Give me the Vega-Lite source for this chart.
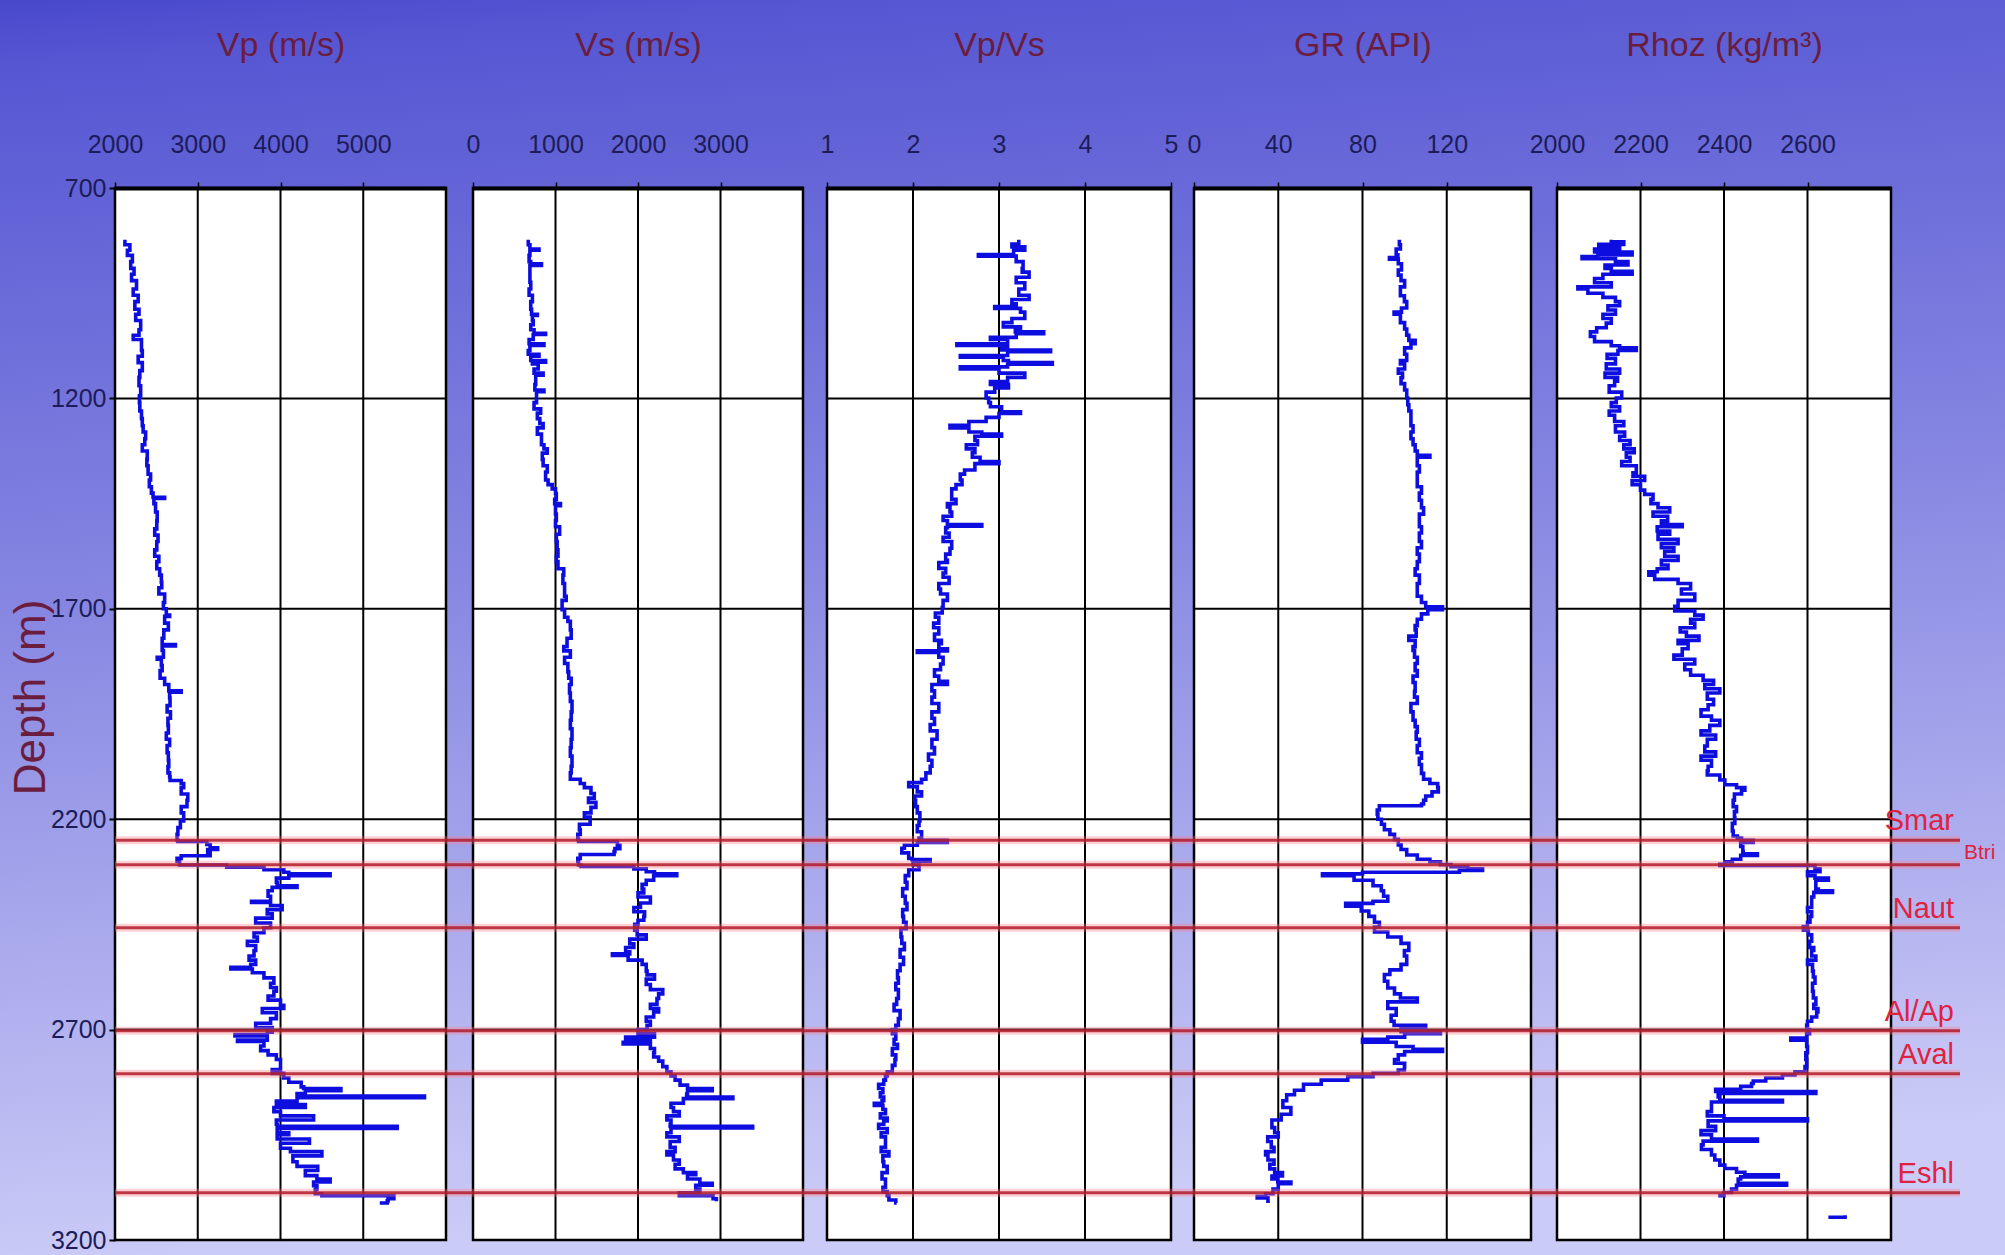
{
  "$schema": "https://vega.github.io/schema/vega-lite/v6.json",
  "width": 1845,
  "height": 1052,
  "autosize": "none",
  "padding": {"left": 115, "top": 188, "right": 45, "bottom": 15},
  "background": "#8686e2",
  "view": {"stroke": null, "fill": null},
  "config": {"font": "Liberation Sans, Arial, sans-serif"},
  "datasets": {
    "hgrid": [{"d": 1200}, {"d": 1700}, {"d": 2200}, {"d": 2700}],
    "tops": [
      {"name": "Smar", "d": 2250},
      {"name": "Btri", "d": 2308},
      {"name": "Naut", "d": 2458},
      {"name": "Al/Ap", "d": 2703},
      {"name": "Aval", "d": 2805},
      {"name": "Eshl", "d": 3088}
    ],
    "vp": [
      {"d":823,"v":2120},{"d":835,"v":2180},{"d":848,"v":2150},{"d":860,"v":2210},{"d":875,"v":2190},{"d":891,"v":2230},{"d":905,"v":2200},{"d":920,"v":2260},{"d":940,"v":2220},{"d":955,"v":2280},{"d":970,"v":2240},{"d":988,"v":2290},{"d":1000,"v":2250},{"d":1015,"v":2310},{"d":1037,"v":2290},{"d":1050,"v":2220},{"d":1060,"v":2320},{"d":1086,"v":2330},{"d":1100,"v":2280},{"d":1115,"v":2330},{"d":1134,"v":2300},{"d":1150,"v":2290},{"d":1170,"v":2310},{"d":1194,"v":2295},{"d":1210,"v":2300},{"d":1230,"v":2320},{"d":1248,"v":2330},{"d":1265,"v":2340},{"d":1280,"v":2370},{"d":1296,"v":2360},{"d":1310,"v":2330},{"d":1325,"v":2390},{"d":1345,"v":2385},{"d":1360,"v":2400},{"d":1380,"v":2430},{"d":1394,"v":2415},{"d":1410,"v":2440},{"d":1425,"v":2460},{"d":1435,"v":2600},{"d":1438,"v":2470},{"d":1450,"v":2490},{"d":1470,"v":2510},{"d":1491,"v":2505},{"d":1510,"v":2480},{"d":1525,"v":2520},{"d":1540,"v":2505},{"d":1560,"v":2480},{"d":1575,"v":2530},{"d":1588,"v":2505},{"d":1605,"v":2540},{"d":1620,"v":2560},{"d":1637,"v":2565},{"d":1650,"v":2530},{"d":1665,"v":2600},{"d":1685,"v":2585},{"d":1700,"v":2620},{"d":1715,"v":2660},{"d":1718,"v":2600},{"d":1734,"v":2645},{"d":1750,"v":2590},{"d":1770,"v":2570},{"d":1785,"v":2730},{"d":1788,"v":2570},{"d":1799,"v":2585},{"d":1815,"v":2510},{"d":1820,"v":2560},{"d":1835,"v":2570},{"d":1847,"v":2545},{"d":1865,"v":2600},{"d":1880,"v":2650},{"d":1895,"v":2800},{"d":1898,"v":2660},{"d":1912,"v":2665},{"d":1930,"v":2630},{"d":1945,"v":2670},{"d":1960,"v":2640},{"d":1977,"v":2645},{"d":1995,"v":2620},{"d":2010,"v":2660},{"d":2025,"v":2630},{"d":2042,"v":2645},{"d":2060,"v":2650},{"d":2075,"v":2640},{"d":2090,"v":2660},{"d":2099,"v":2665},{"d":2108,"v":2800},{"d":2115,"v":2830},{"d":2125,"v":2800},{"d":2140,"v":2880},{"d":2155,"v":2870},{"d":2170,"v":2800},{"d":2185,"v":2830},{"d":2204,"v":2790},{"d":2220,"v":2760},{"d":2236,"v":2750},{"d":2250,"v":2760},{"d":2253,"v":3110},{"d":2260,"v":3150},{"d":2268,"v":3240},{"d":2272,"v":3120},{"d":2280,"v":3150},{"d":2287,"v":2800},{"d":2293,"v":2750},{"d":2300,"v":2780},{"d":2309,"v":3350},{"d":2314,"v":3800},{"d":2320,"v":4040},{"d":2326,"v":4100},{"d":2330,"v":4600},{"d":2334,"v":4100},{"d":2340,"v":3950},{"d":2350,"v":3960},{"d":2358,"v":4200},{"d":2362,"v":3900},{"d":2370,"v":3850},{"d":2383,"v":3880},{"d":2395,"v":3650},{"d":2398,"v":3880},{"d":2405,"v":4020},{"d":2415,"v":3840},{"d":2425,"v":3900},{"d":2435,"v":3700},{"d":2447,"v":3880},{"d":2458,"v":3800},{"d":2470,"v":3680},{"d":2480,"v":3720},{"d":2490,"v":3600},{"d":2500,"v":3700},{"d":2512,"v":3680},{"d":2525,"v":3620},{"d":2535,"v":3700},{"d":2545,"v":3640},{"d":2552,"v":3400},{"d":2556,"v":3660},{"d":2565,"v":3800},{"d":2577,"v":3920},{"d":2590,"v":3880},{"d":2600,"v":3950},{"d":2609,"v":3920},{"d":2620,"v":3850},{"d":2630,"v":4000},{"d":2642,"v":4040},{"d":2650,"v":3780},{"d":2660,"v":3950},{"d":2674,"v":3880},{"d":2685,"v":3700},{"d":2695,"v":3900},{"d":2706,"v":3840},{"d":2712,"v":3450},{"d":2715,"v":3840},{"d":2725,"v":3480},{"d":2728,"v":3800},{"d":2739,"v":3760},{"d":2750,"v":3850},{"d":2760,"v":3950},{"d":2771,"v":4000},{"d":2785,"v":4000},{"d":2795,"v":3900},{"d":2804,"v":4040},{"d":2815,"v":4100},{"d":2825,"v":4250},{"d":2836,"v":4280},{"d":2840,"v":4730},{"d":2845,"v":4300},{"d":2852,"v":4200},{"d":2858,"v":5740},{"d":2862,"v":4200},{"d":2870,"v":3950},{"d":2878,"v":4300},{"d":2885,"v":3920},{"d":2895,"v":4000},{"d":2905,"v":4400},{"d":2915,"v":3950},{"d":2925,"v":3960},{"d":2930,"v":5410},{"d":2935,"v":3960},{"d":2945,"v":4100},{"d":2950,"v":3960},{"d":2960,"v":4350},{"d":2970,"v":4000},{"d":2982,"v":4120},{"d":2990,"v":4500},{"d":3000,"v":4150},{"d":3014,"v":4200},{"d":3025,"v":4450},{"d":3035,"v":4300},{"d":3047,"v":4440},{"d":3055,"v":4600},{"d":3062,"v":4400},{"d":3071,"v":4440},{"d":3080,"v":4420},{"d":3090,"v":4500},{"d":3095,"v":5370},{"d":3102,"v":5300},{"d":3107,"v":5290},{"d":3112,"v":5200}
    ],
    "vs": [
      {"d":823,"v":670},{"d":835,"v":690},{"d":845,"v":800},{"d":848,"v":690},{"d":860,"v":680},{"d":875,"v":700},{"d":880,"v":830},{"d":884,"v":690},{"d":900,"v":690},{"d":924,"v":700},{"d":940,"v":680},{"d":955,"v":720},{"d":970,"v":700},{"d":988,"v":710},{"d":1000,"v":780},{"d":1003,"v":720},{"d":1015,"v":730},{"d":1025,"v":700},{"d":1037,"v":740},{"d":1045,"v":880},{"d":1048,"v":730},{"d":1060,"v":680},{"d":1070,"v":860},{"d":1074,"v":690},{"d":1086,"v":670},{"d":1095,"v":800},{"d":1100,"v":700},{"d":1110,"v":880},{"d":1114,"v":720},{"d":1118,"v":790},{"d":1130,"v":740},{"d":1140,"v":850},{"d":1145,"v":760},{"d":1160,"v":760},{"d":1167,"v":750},{"d":1180,"v":860},{"d":1184,"v":770},{"d":1199,"v":770},{"d":1210,"v":740},{"d":1225,"v":820},{"d":1235,"v":780},{"d":1248,"v":810},{"d":1260,"v":850},{"d":1270,"v":780},{"d":1285,"v":830},{"d":1296,"v":830},{"d":1310,"v":860},{"d":1320,"v":900},{"d":1330,"v":840},{"d":1345,"v":850},{"d":1360,"v":900},{"d":1375,"v":880},{"d":1394,"v":910},{"d":1405,"v":960},{"d":1415,"v":1000},{"d":1426,"v":1010},{"d":1440,"v":990},{"d":1450,"v":1060},{"d":1455,"v":1000},{"d":1475,"v":1010},{"d":1490,"v":1000},{"d":1505,"v":1050},{"d":1523,"v":1010},{"d":1540,"v":1020},{"d":1560,"v":1030},{"d":1575,"v":1010},{"d":1588,"v":1030},{"d":1605,"v":1100},{"d":1620,"v":1090},{"d":1640,"v":1110},{"d":1653,"v":1110},{"d":1670,"v":1130},{"d":1680,"v":1080},{"d":1702,"v":1110},{"d":1720,"v":1150},{"d":1730,"v":1180},{"d":1750,"v":1190},{"d":1770,"v":1140},{"d":1790,"v":1100},{"d":1800,"v":1180},{"d":1815,"v":1110},{"d":1830,"v":1150},{"d":1850,"v":1160},{"d":1865,"v":1190},{"d":1880,"v":1170},{"d":1900,"v":1180},{"d":1920,"v":1200},{"d":1945,"v":1190},{"d":1965,"v":1180},{"d":1985,"v":1200},{"d":2010,"v":1190},{"d":2030,"v":1180},{"d":2050,"v":1200},{"d":2074,"v":1190},{"d":2090,"v":1180},{"d":2105,"v":1300},{"d":2115,"v":1350},{"d":2125,"v":1430},{"d":2139,"v":1470},{"d":2150,"v":1400},{"d":2160,"v":1490},{"d":2172,"v":1430},{"d":2185,"v":1350},{"d":2195,"v":1420},{"d":2212,"v":1290},{"d":2225,"v":1300},{"d":2236,"v":1270},{"d":2248,"v":1280},{"d":2253,"v":1750},{"d":2262,"v":1780},{"d":2270,"v":1720},{"d":2277,"v":1710},{"d":2284,"v":1300},{"d":2293,"v":1270},{"d":2300,"v":1280},{"d":2309,"v":1310},{"d":2312,"v":1950},{"d":2318,"v":2100},{"d":2325,"v":2200},{"d":2330,"v":2470},{"d":2334,"v":2190},{"d":2345,"v":2100},{"d":2355,"v":2050},{"d":2366,"v":2070},{"d":2375,"v":2000},{"d":2385,"v":2150},{"d":2399,"v":2030},{"d":2410,"v":1950},{"d":2420,"v":2080},{"d":2431,"v":2070},{"d":2440,"v":2000},{"d":2450,"v":1960},{"d":2464,"v":1990},{"d":2475,"v":2100},{"d":2485,"v":1900},{"d":2496,"v":1950},{"d":2505,"v":1850},{"d":2515,"v":1900},{"d":2520,"v":1690},{"d":2524,"v":1880},{"d":2535,"v":2050},{"d":2545,"v":2100},{"d":2561,"v":2110},{"d":2570,"v":2200},{"d":2580,"v":2100},{"d":2593,"v":2150},{"d":2605,"v":2300},{"d":2615,"v":2250},{"d":2626,"v":2230},{"d":2640,"v":2150},{"d":2650,"v":2250},{"d":2658,"v":2190},{"d":2670,"v":2100},{"d":2680,"v":2150},{"d":2690,"v":2110},{"d":2700,"v":2000},{"d":2710,"v":2200},{"d":2718,"v":1850},{"d":2722,"v":2150},{"d":2730,"v":1820},{"d":2734,"v":2150},{"d":2745,"v":2200},{"d":2755,"v":2190},{"d":2765,"v":2250},{"d":2775,"v":2300},{"d":2788,"v":2350},{"d":2800,"v":2400},{"d":2810,"v":2450},{"d":2820,"v":2510},{"d":2832,"v":2600},{"d":2840,"v":2900},{"d":2845,"v":2600},{"d":2853,"v":2590},{"d":2860,"v":3150},{"d":2864,"v":2550},{"d":2875,"v":2400},{"d":2885,"v":2430},{"d":2895,"v":2500},{"d":2905,"v":2350},{"d":2915,"v":2400},{"d":2925,"v":2390},{"d":2930,"v":3390},{"d":2934,"v":2400},{"d":2945,"v":2350},{"d":2955,"v":2500},{"d":2966,"v":2390},{"d":2980,"v":2450},{"d":2990,"v":2350},{"d":2998,"v":2430},{"d":3010,"v":2500},{"d":3020,"v":2450},{"d":3031,"v":2550},{"d":3040,"v":2700},{"d":3045,"v":2600},{"d":3055,"v":2750},{"d":3065,"v":2900},{"d":3070,"v":2700},{"d":3079,"v":2750},{"d":3088,"v":2500},{"d":3095,"v":2910},{"d":3102,"v":2950},{"d":3108,"v":2950}
    ],
    "vpvs": [
      {"d":823,"v":3.23},{"d":833,"v":3.15},{"d":840,"v":3.3},{"d":848,"v":3.17},{"d":858,"v":2.76},{"d":862,"v":3.2},{"d":875,"v":3.28},{"d":891,"v":3.27},{"d":900,"v":3.35},{"d":912,"v":3.2},{"d":925,"v":3.3},{"d":940,"v":3.23},{"d":955,"v":3.35},{"d":965,"v":3.15},{"d":975,"v":3.2},{"d":982,"v":2.95},{"d":986,"v":3.25},{"d":995,"v":3.3},{"d":1010,"v":3.15},{"d":1020,"v":3.05},{"d":1030,"v":3.25},{"d":1037,"v":3.19},{"d":1042,"v":3.52},{"d":1046,"v":3.2},{"d":1055,"v":2.9},{"d":1060,"v":3.1},{"d":1070,"v":2.51},{"d":1074,"v":3.1},{"d":1078,"v":3.03},{"d":1085,"v":3.6},{"d":1089,"v":3.1},{"d":1098,"v":2.55},{"d":1102,"v":3.05},{"d":1110,"v":3.11},{"d":1115,"v":3.62},{"d":1119,"v":3.1},{"d":1125,"v":2.55},{"d":1130,"v":3.0},{"d":1140,"v":3.3},{"d":1150,"v":3.1},{"d":1160,"v":2.9},{"d":1167,"v":3.11},{"d":1175,"v":2.95},{"d":1185,"v":2.85},{"d":1199,"v":2.88},{"d":1210,"v":2.9},{"d":1220,"v":3.03},{"d":1232,"v":3.25},{"d":1236,"v":3.0},{"d":1245,"v":2.85},{"d":1255,"v":2.65},{"d":1264,"v":2.43},{"d":1270,"v":2.65},{"d":1280,"v":2.8},{"d":1285,"v":3.03},{"d":1290,"v":2.72},{"d":1300,"v":2.75},{"d":1310,"v":2.62},{"d":1320,"v":2.72},{"d":1329,"v":2.69},{"d":1340,"v":2.78},{"d":1350,"v":3.0},{"d":1355,"v":2.72},{"d":1370,"v":2.6},{"d":1380,"v":2.55},{"d":1394,"v":2.57},{"d":1405,"v":2.5},{"d":1415,"v":2.45},{"d":1426,"v":2.45},{"d":1440,"v":2.5},{"d":1450,"v":2.4},{"d":1458,"v":2.43},{"d":1470,"v":2.45},{"d":1480,"v":2.35},{"d":1490,"v":2.4},{"d":1500,"v":2.8},{"d":1504,"v":2.4},{"d":1507,"v":2.38},{"d":1520,"v":2.42},{"d":1530,"v":2.35},{"d":1540,"v":2.45},{"d":1556,"v":2.43},{"d":1570,"v":2.38},{"d":1585,"v":2.4},{"d":1590,"v":2.3},{"d":1604,"v":2.38},{"d":1615,"v":2.35},{"d":1625,"v":2.42},{"d":1640,"v":2.3},{"d":1653,"v":2.32},{"d":1665,"v":2.4},{"d":1680,"v":2.35},{"d":1697,"v":2.34},{"d":1710,"v":2.26},{"d":1720,"v":2.3},{"d":1734,"v":2.24},{"d":1745,"v":2.3},{"d":1760,"v":2.25},{"d":1775,"v":2.33},{"d":1783,"v":2.3},{"d":1795,"v":2.4},{"d":1800,"v":2.05},{"d":1804,"v":2.3},{"d":1815,"v":2.35},{"d":1831,"v":2.32},{"d":1845,"v":2.25},{"d":1860,"v":2.3},{"d":1872,"v":2.4},{"d":1880,"v":2.22},{"d":1895,"v":2.25},{"d":1910,"v":2.22},{"d":1925,"v":2.3},{"d":1945,"v":2.22},{"d":1960,"v":2.25},{"d":1975,"v":2.2},{"d":1990,"v":2.28},{"d":2010,"v":2.22},{"d":2030,"v":2.25},{"d":2045,"v":2.18},{"d":2060,"v":2.22},{"d":2074,"v":2.2},{"d":2090,"v":2.15},{"d":2105,"v":2.1},{"d":2113,"v":1.95},{"d":2123,"v":2.05},{"d":2135,"v":2.1},{"d":2145,"v":2.02},{"d":2155,"v":2.03},{"d":2170,"v":2.05},{"d":2185,"v":2.08},{"d":2204,"v":2.07},{"d":2215,"v":2.05},{"d":2230,"v":2.1},{"d":2245,"v":2.07},{"d":2250,"v":2.4},{"d":2255,"v":2.05},{"d":2262,"v":1.9},{"d":2269,"v":1.87},{"d":2280,"v":1.95},{"d":2293,"v":1.99},{"d":2296,"v":2.2},{"d":2300,"v":2.0},{"d":2309,"v":2.07},{"d":2320,"v":1.95},{"d":2334,"v":1.91},{"d":2350,"v":1.93},{"d":2365,"v":1.88},{"d":2383,"v":1.91},{"d":2400,"v":1.93},{"d":2415,"v":1.88},{"d":2431,"v":1.89},{"d":2445,"v":1.92},{"d":2460,"v":1.86},{"d":2480,"v":1.87},{"d":2495,"v":1.9},{"d":2510,"v":1.85},{"d":2528,"v":1.89},{"d":2545,"v":1.85},{"d":2560,"v":1.82},{"d":2577,"v":1.83},{"d":2590,"v":1.8},{"d":2605,"v":1.83},{"d":2626,"v":1.81},{"d":2640,"v":1.78},{"d":2655,"v":1.85},{"d":2674,"v":1.83},{"d":2690,"v":1.8},{"d":2700,"v":1.76},{"d":2710,"v":1.8},{"d":2723,"v":1.78},{"d":2735,"v":1.82},{"d":2745,"v":1.76},{"d":2760,"v":1.8},{"d":2771,"v":1.79},{"d":2785,"v":1.76},{"d":2800,"v":1.7},{"d":2810,"v":1.68},{"d":2820,"v":1.66},{"d":2830,"v":1.6},{"d":2840,"v":1.65},{"d":2850,"v":1.62},{"d":2860,"v":1.66},{"d":2869,"v":1.64},{"d":2875,"v":1.55},{"d":2880,"v":1.65},{"d":2890,"v":1.68},{"d":2900,"v":1.62},{"d":2910,"v":1.7},{"d":2917,"v":1.66},{"d":2925,"v":1.6},{"d":2935,"v":1.7},{"d":2945,"v":1.63},{"d":2955,"v":1.68},{"d":2966,"v":1.68},{"d":2980,"v":1.63},{"d":2990,"v":1.72},{"d":3000,"v":1.65},{"d":3014,"v":1.66},{"d":3025,"v":1.7},{"d":3040,"v":1.64},{"d":3055,"v":1.68},{"d":3063,"v":1.68},{"d":3075,"v":1.65},{"d":3085,"v":1.7},{"d":3095,"v":1.72},{"d":3105,"v":1.8},{"d":3112,"v":1.81}
    ],
    "gr": [
      {"d":823,"v":97.5},{"d":835,"v":98},{"d":845,"v":96},{"d":859,"v":96.8},{"d":865,"v":92.8},{"d":869,"v":97},{"d":880,"v":98.5},{"d":895,"v":97},{"d":907,"v":98.3},{"d":920,"v":100},{"d":935,"v":98},{"d":956,"v":99.9},{"d":970,"v":101},{"d":985,"v":98.5},{"d":995,"v":95},{"d":1000,"v":98},{"d":1020,"v":100},{"d":1035,"v":101},{"d":1050,"v":102},{"d":1062,"v":105},{"d":1070,"v":103},{"d":1080,"v":100},{"d":1095,"v":101},{"d":1110,"v":98},{"d":1118,"v":100},{"d":1130,"v":97},{"d":1140,"v":99},{"d":1151,"v":98.3},{"d":1165,"v":100},{"d":1180,"v":101},{"d":1199,"v":101.5},{"d":1215,"v":102},{"d":1230,"v":103},{"d":1248,"v":103},{"d":1265,"v":104},{"d":1280,"v":103},{"d":1296,"v":104},{"d":1310,"v":105},{"d":1325,"v":106},{"d":1335,"v":112},{"d":1340,"v":106},{"d":1360,"v":107},{"d":1375,"v":106},{"d":1394,"v":106},{"d":1410,"v":108},{"d":1425,"v":107},{"d":1442,"v":108},{"d":1460,"v":109},{"d":1475,"v":107},{"d":1491,"v":107},{"d":1505,"v":108},{"d":1520,"v":107},{"d":1540,"v":108},{"d":1555,"v":106},{"d":1570,"v":107},{"d":1588,"v":106},{"d":1605,"v":105},{"d":1620,"v":107},{"d":1640,"v":106},{"d":1653,"v":106},{"d":1670,"v":108},{"d":1685,"v":110},{"d":1695,"v":118},{"d":1702,"v":111},{"d":1712,"v":108},{"d":1725,"v":106},{"d":1740,"v":105},{"d":1750,"v":105.5},{"d":1765,"v":102},{"d":1775,"v":105},{"d":1790,"v":104},{"d":1799,"v":104.7},{"d":1815,"v":106},{"d":1830,"v":105},{"d":1847,"v":106},{"d":1860,"v":104},{"d":1875,"v":105},{"d":1896,"v":104.7},{"d":1910,"v":106},{"d":1925,"v":103},{"d":1945,"v":104},{"d":1965,"v":105},{"d":1980,"v":106},{"d":1993,"v":105.5},{"d":2010,"v":107},{"d":2025,"v":106},{"d":2042,"v":108},{"d":2055,"v":107},{"d":2070,"v":108},{"d":2091,"v":109},{"d":2105,"v":112},{"d":2115,"v":115.7},{"d":2125,"v":116},{"d":2135,"v":113},{"d":2145,"v":110},{"d":2155,"v":109},{"d":2164,"v":108},{"d":2168,"v":88},{"d":2178,"v":87},{"d":2188,"v":87.3},{"d":2200,"v":89},{"d":2212,"v":90.4},{"d":2225,"v":93},{"d":2236,"v":95.2},{"d":2248,"v":97},{"d":2261,"v":98.3},{"d":2272,"v":101},{"d":2285,"v":106},{"d":2295,"v":112},{"d":2301,"v":117},{"d":2308,"v":122},{"d":2313,"v":130},{"d":2318,"v":137},{"d":2322,"v":126},{"d":2326,"v":80},{"d":2330,"v":61},{"d":2334,"v":76},{"d":2345,"v":85},{"d":2358,"v":88.9},{"d":2370,"v":90},{"d":2383,"v":92},{"d":2395,"v":85},{"d":2400,"v":72},{"d":2407,"v":79.4},{"d":2418,"v":83},{"d":2431,"v":85.7},{"d":2445,"v":88},{"d":2456,"v":85.7},{"d":2468,"v":92},{"d":2480,"v":98.3},{"d":2495,"v":102},{"d":2512,"v":99.9},{"d":2525,"v":101},{"d":2545,"v":98.3},{"d":2558,"v":93},{"d":2569,"v":90.4},{"d":2585,"v":92},{"d":2601,"v":95.2},{"d":2615,"v":98},{"d":2625,"v":106},{"d":2634,"v":92},{"d":2650,"v":96},{"d":2666,"v":93.6},{"d":2680,"v":95},{"d":2690,"v":110},{"d":2698,"v":98.3},{"d":2705,"v":117},{"d":2710,"v":100},{"d":2718,"v":92},{"d":2723,"v":80},{"d":2730,"v":96},{"d":2740,"v":104},{"d":2747,"v":118},{"d":2752,"v":100},{"d":2760,"v":97},{"d":2771,"v":95.2},{"d":2780,"v":100},{"d":2788,"v":99.9},{"d":2796,"v":97},{"d":2804,"v":85},{"d":2812,"v":73},{"d":2820,"v":60.4},{"d":2830,"v":52},{"d":2844,"v":47.7},{"d":2855,"v":44},{"d":2869,"v":42.2},{"d":2885,"v":46},{"d":2901,"v":41.4},{"d":2915,"v":37},{"d":2933,"v":38.3},{"d":2945,"v":40},{"d":2955,"v":35},{"d":2966,"v":36.7},{"d":2980,"v":38},{"d":2990,"v":34},{"d":2998,"v":35.1},{"d":3010,"v":38},{"d":3020,"v":36},{"d":3031,"v":38.3},{"d":3040,"v":42},{"d":3048,"v":37},{"d":3055,"v":39.8},{"d":3062,"v":46},{"d":3066,"v":40},{"d":3079,"v":37.5},{"d":3090,"v":34},{"d":3096,"v":30},{"d":3100,"v":35.1},{"d":3108,"v":36}
    ],
    "rhoz": [
      {"d":823,"v":2130,"seg":1},{"d":828,"v":2160,"seg":1},{"d":834,"v":2100,"seg":1},{"d":840,"v":2150,"seg":1},{"d":845,"v":2090,"seg":1},{"d":852,"v":2180,"seg":1},{"d":859,"v":2098,"seg":1},{"d":863,"v":2060,"seg":1},{"d":868,"v":2140,"seg":1},{"d":875,"v":2170,"seg":1},{"d":883,"v":2115,"seg":1},{"d":891,"v":2130,"seg":1},{"d":898,"v":2180,"seg":1},{"d":905,"v":2110,"seg":1},{"d":915,"v":2090,"seg":1},{"d":925,"v":2130,"seg":1},{"d":935,"v":2050,"seg":1},{"d":940,"v":2074,"seg":1},{"d":950,"v":2110,"seg":1},{"d":960,"v":2140,"seg":1},{"d":970,"v":2150,"seg":1},{"d":980,"v":2122,"seg":1},{"d":990,"v":2140,"seg":1},{"d":1000,"v":2110,"seg":1},{"d":1010,"v":2130,"seg":1},{"d":1021,"v":2118,"seg":1},{"d":1032,"v":2095,"seg":1},{"d":1042,"v":2080,"seg":1},{"d":1053,"v":2090,"seg":1},{"d":1065,"v":2130,"seg":1},{"d":1075,"v":2150,"seg":1},{"d":1080,"v":2190,"seg":1},{"d":1086,"v":2146,"seg":1},{"d":1095,"v":2120,"seg":1},{"d":1105,"v":2140,"seg":1},{"d":1118,"v":2118,"seg":1},{"d":1130,"v":2150,"seg":1},{"d":1140,"v":2115,"seg":1},{"d":1150,"v":2145,"seg":1},{"d":1159,"v":2138,"seg":1},{"d":1170,"v":2125,"seg":1},{"d":1185,"v":2155,"seg":1},{"d":1199,"v":2142,"seg":1},{"d":1210,"v":2130,"seg":1},{"d":1220,"v":2150,"seg":1},{"d":1230,"v":2125,"seg":1},{"d":1240,"v":2138,"seg":1},{"d":1255,"v":2160,"seg":1},{"d":1265,"v":2140,"seg":1},{"d":1280,"v":2162,"seg":1},{"d":1290,"v":2150,"seg":1},{"d":1300,"v":2175,"seg":1},{"d":1310,"v":2160,"seg":1},{"d":1320,"v":2185,"seg":1},{"d":1329,"v":2166,"seg":1},{"d":1340,"v":2175,"seg":1},{"d":1350,"v":2155,"seg":1},{"d":1360,"v":2190,"seg":1},{"d":1377,"v":2182,"seg":1},{"d":1385,"v":2210,"seg":1},{"d":1395,"v":2180,"seg":1},{"d":1405,"v":2200,"seg":1},{"d":1418,"v":2210,"seg":1},{"d":1428,"v":2230,"seg":1},{"d":1440,"v":2225,"seg":1},{"d":1450,"v":2242,"seg":1},{"d":1460,"v":2270,"seg":1},{"d":1470,"v":2230,"seg":1},{"d":1480,"v":2265,"seg":1},{"d":1491,"v":2250,"seg":1},{"d":1500,"v":2300,"seg":1},{"d":1505,"v":2240,"seg":1},{"d":1515,"v":2270,"seg":1},{"d":1523,"v":2242,"seg":1},{"d":1535,"v":2290,"seg":1},{"d":1545,"v":2250,"seg":1},{"d":1555,"v":2280,"seg":1},{"d":1564,"v":2258,"seg":1},{"d":1575,"v":2290,"seg":1},{"d":1585,"v":2250,"seg":1},{"d":1596,"v":2266,"seg":1},{"d":1605,"v":2240,"seg":1},{"d":1612,"v":2220,"seg":1},{"d":1620,"v":2234,"seg":1},{"d":1630,"v":2290,"seg":1},{"d":1640,"v":2320,"seg":1},{"d":1653,"v":2298,"seg":1},{"d":1665,"v":2330,"seg":1},{"d":1680,"v":2290,"seg":1},{"d":1694,"v":2282,"seg":1},{"d":1705,"v":2330,"seg":1},{"d":1715,"v":2350,"seg":1},{"d":1725,"v":2320,"seg":1},{"d":1734,"v":2330,"seg":1},{"d":1745,"v":2295,"seg":1},{"d":1755,"v":2310,"seg":1},{"d":1765,"v":2340,"seg":1},{"d":1775,"v":2290,"seg":1},{"d":1783,"v":2314,"seg":1},{"d":1795,"v":2300,"seg":1},{"d":1810,"v":2280,"seg":1},{"d":1820,"v":2330,"seg":1},{"d":1831,"v":2306,"seg":1},{"d":1845,"v":2320,"seg":1},{"d":1858,"v":2350,"seg":1},{"d":1870,"v":2375,"seg":1},{"d":1880,"v":2354,"seg":1},{"d":1890,"v":2390,"seg":1},{"d":1900,"v":2360,"seg":1},{"d":1915,"v":2375,"seg":1},{"d":1928,"v":2362,"seg":1},{"d":1940,"v":2345,"seg":1},{"d":1955,"v":2370,"seg":1},{"d":1965,"v":2390,"seg":1},{"d":1977,"v":2366,"seg":1},{"d":1990,"v":2345,"seg":1},{"d":2000,"v":2380,"seg":1},{"d":2010,"v":2360,"seg":1},{"d":2026,"v":2354,"seg":1},{"d":2040,"v":2380,"seg":1},{"d":2050,"v":2345,"seg":1},{"d":2060,"v":2370,"seg":1},{"d":2074,"v":2362,"seg":1},{"d":2085,"v":2360,"seg":1},{"d":2095,"v":2390,"seg":1},{"d":2107,"v":2402,"seg":1},{"d":2118,"v":2430,"seg":1},{"d":2125,"v":2450,"seg":1},{"d":2131,"v":2442,"seg":1},{"d":2140,"v":2425,"seg":1},{"d":2155,"v":2422,"seg":1},{"d":2170,"v":2430,"seg":1},{"d":2182,"v":2425,"seg":1},{"d":2196,"v":2426,"seg":1},{"d":2210,"v":2420,"seg":1},{"d":2228,"v":2422,"seg":1},{"d":2240,"v":2432,"seg":1},{"d":2245,"v":2442,"seg":1},{"d":2250,"v":2470,"seg":1},{"d":2255,"v":2440,"seg":1},{"d":2265,"v":2445,"seg":1},{"d":2277,"v":2446,"seg":1},{"d":2282,"v":2480,"seg":1},{"d":2286,"v":2440,"seg":1},{"d":2295,"v":2420,"seg":1},{"d":2301,"v":2402,"seg":1},{"d":2307,"v":2390,"seg":1},{"d":2310,"v":2618,"seg":1},{"d":2318,"v":2630,"seg":1},{"d":2325,"v":2600,"seg":1},{"d":2334,"v":2618,"seg":1},{"d":2340,"v":2650,"seg":1},{"d":2345,"v":2620,"seg":1},{"d":2355,"v":2620,"seg":1},{"d":2366,"v":2626,"seg":1},{"d":2370,"v":2660,"seg":1},{"d":2374,"v":2615,"seg":1},{"d":2385,"v":2610,"seg":1},{"d":2399,"v":2610,"seg":1},{"d":2410,"v":2600,"seg":1},{"d":2420,"v":2610,"seg":1},{"d":2431,"v":2606,"seg":1},{"d":2445,"v":2600,"seg":1},{"d":2455,"v":2590,"seg":1},{"d":2464,"v":2602,"seg":1},{"d":2475,"v":2610,"seg":1},{"d":2490,"v":2605,"seg":1},{"d":2505,"v":2615,"seg":1},{"d":2512,"v":2610,"seg":1},{"d":2525,"v":2620,"seg":1},{"d":2535,"v":2600,"seg":1},{"d":2545,"v":2612,"seg":1},{"d":2561,"v":2614,"seg":1},{"d":2575,"v":2618,"seg":1},{"d":2590,"v":2612,"seg":1},{"d":2609,"v":2614,"seg":1},{"d":2625,"v":2620,"seg":1},{"d":2640,"v":2615,"seg":1},{"d":2650,"v":2625,"seg":1},{"d":2658,"v":2622,"seg":1},{"d":2670,"v":2610,"seg":1},{"d":2680,"v":2600,"seg":1},{"d":2690,"v":2598,"seg":1},{"d":2700,"v":2605,"seg":1},{"d":2710,"v":2598,"seg":1},{"d":2720,"v":2560,"seg":1},{"d":2725,"v":2598,"seg":1},{"d":2740,"v":2600,"seg":1},{"d":2755,"v":2596,"seg":1},{"d":2771,"v":2598,"seg":1},{"d":2788,"v":2594,"seg":1},{"d":2800,"v":2570,"seg":1},{"d":2808,"v":2540,"seg":1},{"d":2815,"v":2500,"seg":1},{"d":2822,"v":2470,"seg":1},{"d":2828,"v":2466,"seg":1},{"d":2835,"v":2440,"seg":1},{"d":2842,"v":2380,"seg":1},{"d":2847,"v":2620,"seg":1},{"d":2852,"v":2386,"seg":1},{"d":2860,"v":2390,"seg":1},{"d":2868,"v":2540,"seg":1},{"d":2872,"v":2370,"seg":1},{"d":2885,"v":2370,"seg":1},{"d":2895,"v":2360,"seg":1},{"d":2905,"v":2400,"seg":1},{"d":2912,"v":2600,"seg":1},{"d":2917,"v":2362,"seg":1},{"d":2930,"v":2380,"seg":1},{"d":2940,"v":2345,"seg":1},{"d":2950,"v":2370,"seg":1},{"d":2960,"v":2480,"seg":1},{"d":2965,"v":2350,"seg":1},{"d":2974,"v":2346,"seg":1},{"d":2985,"v":2370,"seg":1},{"d":2998,"v":2378,"seg":1},{"d":3010,"v":2390,"seg":1},{"d":3022,"v":2402,"seg":1},{"d":3030,"v":2430,"seg":1},{"d":3039,"v":2450,"seg":1},{"d":3045,"v":2530,"seg":1},{"d":3050,"v":2440,"seg":1},{"d":3055,"v":2434,"seg":1},{"d":3065,"v":2550,"seg":1},{"d":3070,"v":2430,"seg":1},{"d":3079,"v":2418,"seg":1},{"d":3087,"v":2400,"seg":1},{"d":3095,"v":2386,"seg":1},
      {"d":3141,"v":2690,"seg":2},{"d":3146,"v":2650,"seg":2}
    ]
  },
  "resolve": {"scale": {"x": "independent"}, "axis": {"x": "independent"}},
  "layer": [
    {
      "data": {"values": [{}]},
      "mark": {"type": "rect", "fill": {"gradient": "linear", "x1": 0, "y1": 0, "x2": 0.12, "y2": 1,
        "stops": [{"offset": 0, "color": "#4848cc"}, {"offset": 0.05, "color": "#5656d3"}, {"offset": 0.45, "color": "#8383e1"}, {"offset": 1, "color": "#cbcbf7"}]}},
      "encoding": {
        "x": {"datum": -0.0624, "type": "quantitative", "scale": {"domain": [0, 1], "range": [0, 1845], "nice": false, "zero": false}, "axis": null},
        "x2": {"datum": 1.0245},
        "y": {"datum": 253, "type": "quantitative", "scale": {"domain": [700, 3200], "range": [0, 1052], "nice": false, "zero": false}},
        "y2": {"datum": 3236}
      }
    },
    {
      "layer": [
        {"data": {"values": [{}]}, "mark": {"type": "rect", "fill": "white"},
         "encoding": {
           "x": {"datum": 2000, "type": "quantitative", "scale": {"domain": [2000, 6000], "range": [0, 331], "nice": false, "zero": false},
                 "axis": {"orient": "top", "values": [2000, 3000, 4000, 5000], "format": "d", "title": "Vp (m/s)", "grid": false, "domainColor": "black", "domainWidth": 4, "tickSize": 6, "tickColor": "black", "tickWidth": 1.5, "labelFont": "Liberation Sans", "labelFontSize": 25, "labelColor": "#1c1c58", "labelPadding": 25, "labelOverlap": false, "labelFlush": false, "labelBound": false, "titleFont": "Liberation Sans", "titleFontSize": 34, "titleFontWeight": "normal", "titleColor": "#6b1d3f", "titlePadding": 70, "zindex": 2}},
           "x2": {"datum": 6000},
           "y": {"datum": 700, "type": "quantitative", "scale": {"domain": [700, 3200], "range": [0, 1052], "nice": false, "zero": false},
                 "axis": {"orient": "left", "values": [700, 1200, 1700, 2200, 2700, 3200], "format": "d", "title": "Depth (m)", "grid": false, "domain": false, "tickSize": 6, "tickColor": "black", "tickWidth": 2, "labelFont": "Liberation Sans", "labelFontSize": 25, "labelColor": "#1c1c58", "labelPadding": 3, "labelBound": false, "titleFont": "Liberation Sans", "titleFontSize": 44, "titleFontWeight": "normal", "titleColor": "#6b1d3f", "titlePadding": -3, "titleY": 509, "zindex": 2}},
           "y2": {"datum": 3200}}},
        {"data": {"name": "hgrid"}, "mark": {"type": "rule", "color": "black", "strokeWidth": 2},
         "encoding": {"y": {"field": "d", "type": "quantitative"},
                      "x": {"datum": 2000, "type": "quantitative"}, "x2": {"datum": 6000}}},
        {"data": {"values": [{"g": 3000}, {"g": 4000}, {"g": 5000}]}, "mark": {"type": "rule", "color": "black", "strokeWidth": 2},
         "encoding": {"x": {"field": "g", "type": "quantitative"},
                      "y": {"datum": 700, "type": "quantitative"}, "y2": {"datum": 3200}}},
        {"data": {"name": "vp"}, "mark": {"type": "line", "interpolate": "step-before", "color": "#0d0de0", "strokeWidth": 3.6},
         "encoding": {"x": {"field": "v", "type": "quantitative"},
                      "y": {"field": "d", "type": "quantitative"},
                      "order": {"field": "d", "type": "quantitative"}}},
        {"data": {"values": [{}]}, "mark": {"type": "rect", "fill": null, "stroke": "black", "strokeWidth": 2.5},
         "encoding": {"x": {"datum": 2000, "type": "quantitative"}, "x2": {"datum": 6000},
                      "y": {"datum": 700, "type": "quantitative"}, "y2": {"datum": 3200}}}
      ]
    },
    {
      "layer": [
        {"data": {"values": [{}]}, "mark": {"type": "rect", "fill": "white"},
         "encoding": {
           "x": {"datum": 0, "type": "quantitative", "scale": {"domain": [0, 4000], "range": [358, 688], "nice": false, "zero": false},
                 "axis": {"orient": "top", "values": [0, 1000, 2000, 3000], "format": "d", "title": "Vs (m/s)", "grid": false, "domainColor": "black", "domainWidth": 4, "tickSize": 6, "tickColor": "black", "tickWidth": 1.5, "labelFont": "Liberation Sans", "labelFontSize": 25, "labelColor": "#1c1c58", "labelPadding": 25, "labelOverlap": false, "labelFlush": false, "labelBound": false, "titleFont": "Liberation Sans", "titleFontSize": 34, "titleFontWeight": "normal", "titleColor": "#6b1d3f", "titlePadding": 70, "zindex": 2}},
           "x2": {"datum": 4000},
           "y": {"datum": 700, "type": "quantitative"},
           "y2": {"datum": 3200}}},
        {"data": {"name": "hgrid"}, "mark": {"type": "rule", "color": "black", "strokeWidth": 2},
         "encoding": {"y": {"field": "d", "type": "quantitative"},
                      "x": {"datum": 0, "type": "quantitative"}, "x2": {"datum": 4000}}},
        {"data": {"values": [{"g": 1000}, {"g": 2000}, {"g": 3000}]}, "mark": {"type": "rule", "color": "black", "strokeWidth": 2},
         "encoding": {"x": {"field": "g", "type": "quantitative"},
                      "y": {"datum": 700, "type": "quantitative"}, "y2": {"datum": 3200}}},
        {"data": {"name": "vs"}, "mark": {"type": "line", "interpolate": "step-before", "color": "#0d0de0", "strokeWidth": 3.6},
         "encoding": {"x": {"field": "v", "type": "quantitative"},
                      "y": {"field": "d", "type": "quantitative"},
                      "order": {"field": "d", "type": "quantitative"}}},
        {"data": {"values": [{}]}, "mark": {"type": "rect", "fill": null, "stroke": "black", "strokeWidth": 2.5},
         "encoding": {"x": {"datum": 0, "type": "quantitative"}, "x2": {"datum": 4000},
                      "y": {"datum": 700, "type": "quantitative"}, "y2": {"datum": 3200}}}
      ]
    },
    {
      "layer": [
        {"data": {"values": [{}]}, "mark": {"type": "rect", "fill": "white"},
         "encoding": {
           "x": {"datum": 1, "type": "quantitative", "scale": {"domain": [1, 5], "range": [712, 1056], "nice": false, "zero": false},
                 "axis": {"orient": "top", "values": [1, 2, 3, 4, 5], "format": "d", "title": "Vp/Vs", "grid": false, "domainColor": "black", "domainWidth": 4, "tickSize": 6, "tickColor": "black", "tickWidth": 1.5, "labelFont": "Liberation Sans", "labelFontSize": 25, "labelColor": "#1c1c58", "labelPadding": 25, "labelOverlap": false, "labelFlush": false, "labelBound": false, "titleFont": "Liberation Sans", "titleFontSize": 34, "titleFontWeight": "normal", "titleColor": "#6b1d3f", "titlePadding": 70, "zindex": 2}},
           "x2": {"datum": 5},
           "y": {"datum": 700, "type": "quantitative"},
           "y2": {"datum": 3200}}},
        {"data": {"name": "hgrid"}, "mark": {"type": "rule", "color": "black", "strokeWidth": 2},
         "encoding": {"y": {"field": "d", "type": "quantitative"},
                      "x": {"datum": 1, "type": "quantitative"}, "x2": {"datum": 5}}},
        {"data": {"values": [{"g": 2}, {"g": 3}, {"g": 4}]}, "mark": {"type": "rule", "color": "black", "strokeWidth": 2},
         "encoding": {"x": {"field": "g", "type": "quantitative"},
                      "y": {"datum": 700, "type": "quantitative"}, "y2": {"datum": 3200}}},
        {"data": {"name": "vpvs"}, "mark": {"type": "line", "interpolate": "step-before", "color": "#0d0de0", "strokeWidth": 3.6},
         "encoding": {"x": {"field": "v", "type": "quantitative"},
                      "y": {"field": "d", "type": "quantitative"},
                      "order": {"field": "d", "type": "quantitative"}}},
        {"data": {"values": [{}]}, "mark": {"type": "rect", "fill": null, "stroke": "black", "strokeWidth": 2.5},
         "encoding": {"x": {"datum": 1, "type": "quantitative"}, "x2": {"datum": 5},
                      "y": {"datum": 700, "type": "quantitative"}, "y2": {"datum": 3200}}}
      ]
    },
    {
      "layer": [
        {"data": {"values": [{}]}, "mark": {"type": "rect", "fill": "white"},
         "encoding": {
           "x": {"datum": 0, "type": "quantitative", "scale": {"domain": [0, 160], "range": [1079, 1416], "nice": false, "zero": false},
                 "axis": {"orient": "top", "values": [0, 40, 80, 120], "format": "d", "title": "GR (API)", "grid": false, "domainColor": "black", "domainWidth": 4, "tickSize": 6, "tickColor": "black", "tickWidth": 1.5, "labelFont": "Liberation Sans", "labelFontSize": 25, "labelColor": "#1c1c58", "labelPadding": 25, "labelOverlap": false, "labelFlush": false, "labelBound": false, "titleFont": "Liberation Sans", "titleFontSize": 34, "titleFontWeight": "normal", "titleColor": "#6b1d3f", "titlePadding": 70, "zindex": 2}},
           "x2": {"datum": 160},
           "y": {"datum": 700, "type": "quantitative"},
           "y2": {"datum": 3200}}},
        {"data": {"name": "hgrid"}, "mark": {"type": "rule", "color": "black", "strokeWidth": 2},
         "encoding": {"y": {"field": "d", "type": "quantitative"},
                      "x": {"datum": 0, "type": "quantitative"}, "x2": {"datum": 160}}},
        {"data": {"values": [{"g": 40}, {"g": 80}, {"g": 120}]}, "mark": {"type": "rule", "color": "black", "strokeWidth": 2},
         "encoding": {"x": {"field": "g", "type": "quantitative"},
                      "y": {"datum": 700, "type": "quantitative"}, "y2": {"datum": 3200}}},
        {"data": {"name": "gr"}, "mark": {"type": "line", "interpolate": "step-before", "color": "#0d0de0", "strokeWidth": 3.6},
         "encoding": {"x": {"field": "v", "type": "quantitative"},
                      "y": {"field": "d", "type": "quantitative"},
                      "order": {"field": "d", "type": "quantitative"}}},
        {"data": {"values": [{}]}, "mark": {"type": "rect", "fill": null, "stroke": "black", "strokeWidth": 2.5},
         "encoding": {"x": {"datum": 0, "type": "quantitative"}, "x2": {"datum": 160},
                      "y": {"datum": 700, "type": "quantitative"}, "y2": {"datum": 3200}}}
      ]
    },
    {
      "layer": [
        {"data": {"values": [{}]}, "mark": {"type": "rect", "fill": "white"},
         "encoding": {
           "x": {"datum": 2000, "type": "quantitative", "scale": {"domain": [2000, 2800], "range": [1442, 1776], "nice": false, "zero": false},
                 "axis": {"orient": "top", "values": [2000, 2200, 2400, 2600], "format": "d", "title": "Rhoz (kg/m³)", "grid": false, "domainColor": "black", "domainWidth": 4, "tickSize": 6, "tickColor": "black", "tickWidth": 1.5, "labelFont": "Liberation Sans", "labelFontSize": 25, "labelColor": "#1c1c58", "labelPadding": 25, "labelOverlap": false, "labelFlush": false, "labelBound": false, "titleFont": "Liberation Sans", "titleFontSize": 34, "titleFontWeight": "normal", "titleColor": "#6b1d3f", "titlePadding": 70, "zindex": 2}},
           "x2": {"datum": 2800},
           "y": {"datum": 700, "type": "quantitative"},
           "y2": {"datum": 3200}}},
        {"data": {"name": "hgrid"}, "mark": {"type": "rule", "color": "black", "strokeWidth": 2},
         "encoding": {"y": {"field": "d", "type": "quantitative"},
                      "x": {"datum": 2000, "type": "quantitative"}, "x2": {"datum": 2800}}},
        {"data": {"values": [{"g": 2200}, {"g": 2400}, {"g": 2600}]}, "mark": {"type": "rule", "color": "black", "strokeWidth": 2},
         "encoding": {"x": {"field": "g", "type": "quantitative"},
                      "y": {"datum": 700, "type": "quantitative"}, "y2": {"datum": 3200}}},
        {"data": {"name": "rhoz"}, "mark": {"type": "line", "interpolate": "step-before", "color": "#0d0de0", "strokeWidth": 3.6},
         "encoding": {"x": {"field": "v", "type": "quantitative"},
                      "y": {"field": "d", "type": "quantitative"},
                      "detail": {"field": "seg", "type": "nominal"},
                      "order": {"field": "d", "type": "quantitative"}}},
        {"data": {"values": [{}]}, "mark": {"type": "rect", "fill": null, "stroke": "black", "strokeWidth": 2.5},
         "encoding": {"x": {"datum": 2000, "type": "quantitative"}, "x2": {"datum": 2800},
                      "y": {"datum": 700, "type": "quantitative"}, "y2": {"datum": 3200}}}
      ]
    },
    {
      "data": {"name": "tops"},
      "layer": [
        {"mark": {"type": "rule", "color": "#ff7a86", "strokeWidth": 8, "opacity": 0.35},
         "encoding": {"x": {"datum": 0, "type": "quantitative", "scale": {"domain": [0, 1], "range": [0, 1845], "nice": false, "zero": false}, "axis": null}, "x2": {"datum": 1},
                      "y": {"field": "d", "type": "quantitative"}}},
        {"mark": {"type": "rule", "color": "#b01c2a", "strokeWidth": 3, "opacity": 0.85},
         "encoding": {"x": {"datum": 0, "type": "quantitative", "axis": null}, "x2": {"datum": 1},
                      "y": {"field": "d", "type": "quantitative"}}},
        {"transform": [{"filter": "datum.name !== 'Btri'"}],
         "mark": {"type": "text", "align": "right", "baseline": "alphabetic", "dx": -6, "dy": -10, "font": "Liberation Sans", "fontSize": 29, "color": "#e0213f"},
         "encoding": {"x": {"datum": 1, "type": "quantitative", "axis": null},
                      "y": {"field": "d", "type": "quantitative"},
                      "text": {"field": "name"}}},
        {"transform": [{"filter": "datum.name === 'Btri'"}],
         "mark": {"type": "text", "align": "left", "baseline": "alphabetic", "dx": 4, "dy": -6, "font": "Liberation Sans", "fontSize": 21, "color": "#e0213f"},
         "encoding": {"x": {"datum": 1, "type": "quantitative", "axis": null},
                      "y": {"field": "d", "type": "quantitative"},
                      "text": {"field": "name"}}}
      ]
    }
  ]
}
